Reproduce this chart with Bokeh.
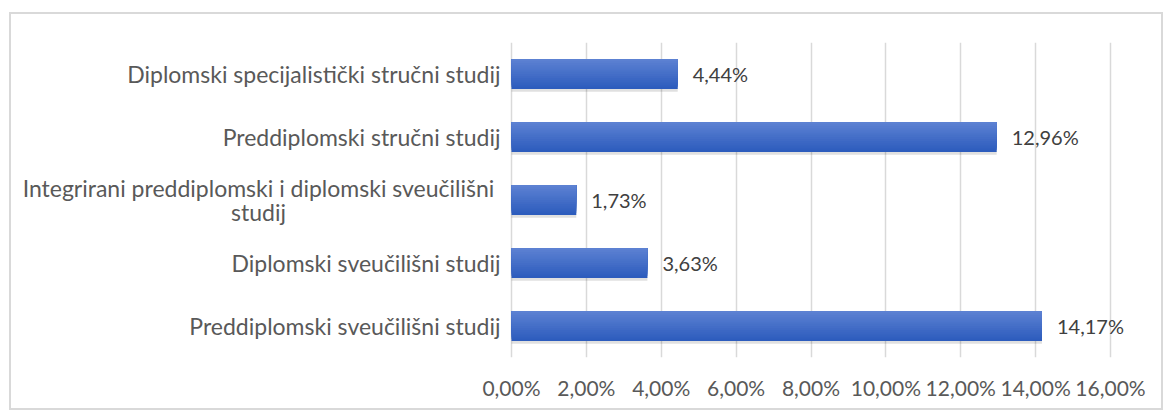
from bokeh.plotting import figure
from bokeh.models import (ColumnDataSource, FactorRange, Range1d, LabelSet,
                          FixedTicker, CustomJSTickFormatter)
from bokeh.core.properties import value
from bokeh.transform import dodge
from bokeh.embed import file_html
from bokeh.resources import INLINE

# ---- data (top to bottom as shown) ----
categories = [
    "Diplomski specijalistički stručni studij",
    "Preddiplomski stručni studij",
    "Integrirani preddiplomski i diplomski sveučilišni studij",
    "Diplomski sveučilišni studij",
    "Preddiplomski sveučilišni studij",
]
category_display = [
    "Diplomski specijalistički stručni studij",
    "Preddiplomski stručni studij",
    "Integrirani preddiplomski i diplomski sveučilišni\nstudij",
    "Diplomski sveučilišni studij",
    "Preddiplomski sveučilišni studij",
]
values = [4.44, 12.96, 1.73, 3.63, 14.17]
x_ticks = [0, 2, 4, 6, 8, 10, 12, 14, 16]
x_max = 16

FONT = "Lato"
CAT_FS = "23px"
VAL_FS = "20px"
TXT = "#595959"

# ---- layout (pixels) ----
CANVAS_W, CANVAS_H = 1150, 394
FRAME_L, FRAME_R = 9, 11          # frame spans almost full canvas width
ZERO_PX = 500                     # position of 0% measured from canvas left
FULL_PX = 599                     # width from 0% to 16%
FRAME_W = CANVAS_W - FRAME_L - FRAME_R
scale = FULL_PX / x_max
x_start = -(ZERO_PX - FRAME_L) / scale
x_end = x_start + FRAME_W / scale
LINE_H = 24

value_labels = [f"{v:.2f}".replace(".", ",") + "%" for v in values]

src = ColumnDataSource(dict(cat=categories, val=values, lab=value_labels,
                            zero=[0] * len(values)))

factors = list(reversed(categories))
p = figure(y_range=FactorRange(factors=factors, range_padding=0),
           x_range=Range1d(x_start, x_end),
           frame_width=FRAME_W, frame_height=315,
           min_border_left=FRAME_L, min_border_right=FRAME_R,
           min_border_top=28, min_border_bottom=51,
           output_backend="svg", toolbar_location=None)
p.styles = {"border": "2px solid #d9d9d9", "margin": "12px 0px 0px 9px"}
p.outline_line_color = None
p.background_fill_color = "white"
p.border_fill_color = "white"

# shadow
BH = 0.476
p.hbar(y=dodge("cat", -0.045, range=p.y_range), left="zero", right="val",
       height=BH, source=src, fill_color="black", fill_alpha=0.12, line_color=None)

# gradient bar: nested layers anchored at the top edge
n = 14
top = (92, 129, 210)
bot = (45, 92, 189)
for k in range(n):
    t = 1 - k / (n - 1)
    c = tuple(int(round(top[j] + (bot[j] - top[j]) * t)) for j in range(3))
    hk = BH * (n - k) / n
    off = BH / 2 - hk / 2
    p.hbar(y=dodge("cat", off, range=p.y_range), left="zero", right="val",
           height=hk, source=src,
           fill_color="#%02x%02x%02x" % c, line_color=None)

# value labels
p.add_layout(LabelSet(x="val", y="cat", text="lab", source=src, x_offset=15,
                      text_baseline="middle", text_font=value(FONT),
                      text_font_size=value(VAL_FS), text_color="#404040"))

# category labels: single-line ones right-aligned, wrapped ones centred per line
s_cat, s_txt = [], []
m_cat, m_txt, m_yoff = [], [], []
for cat, disp in zip(categories, category_display):
    lines = disp.split("\n")
    if len(lines) == 1:
        s_cat.append(cat)
        s_txt.append(disp)
    else:
        for i, ln in enumerate(lines):
            m_cat.append(cat)
            m_txt.append(ln)
            m_yoff.append(((len(lines) - 1) / 2 - i) * LINE_H)

src_s = ColumnDataSource(dict(cat=s_cat, txt=s_txt, zero=[0] * len(s_cat)))
src_m = ColumnDataSource(dict(cat=m_cat, txt=m_txt, yoff=m_yoff,
                              zero=[0] * len(m_cat)))
p.add_layout(LabelSet(x="zero", y="cat", text="txt", source=src_s, x_offset=-11,
                      text_align="right", text_baseline="middle",
                      text_font=value(FONT), text_font_size=value(CAT_FS),
                      text_color=TXT))
p.add_layout(LabelSet(x="zero", y="cat", text="txt", source=src_m,
                      x_offset=-253, y_offset="yoff",
                      text_align="center", text_baseline="middle",
                      text_font=value(FONT), text_font_size=value(CAT_FS),
                      text_color=TXT))

# axes
p.yaxis.visible = False
p.ygrid.visible = False
p.xaxis.ticker = FixedTicker(ticks=x_ticks)
p.xaxis.formatter = CustomJSTickFormatter(
    code="return tick.toFixed(2).replace('.', ',') + '%';")
p.xaxis.axis_line_color = None
p.xaxis.major_tick_line_color = None
p.xaxis.minor_tick_line_color = None
p.xaxis.major_label_standoff = 11
p.xaxis.major_label_text_font = FONT
p.xaxis.major_label_text_font_size = "21px"
p.xaxis.major_label_text_color = TXT
p.xgrid.grid_line_color = "#d9d9d9"
p.xgrid.grid_line_width = 1.5

open("out.html", "w").write(file_html(p, INLINE))
